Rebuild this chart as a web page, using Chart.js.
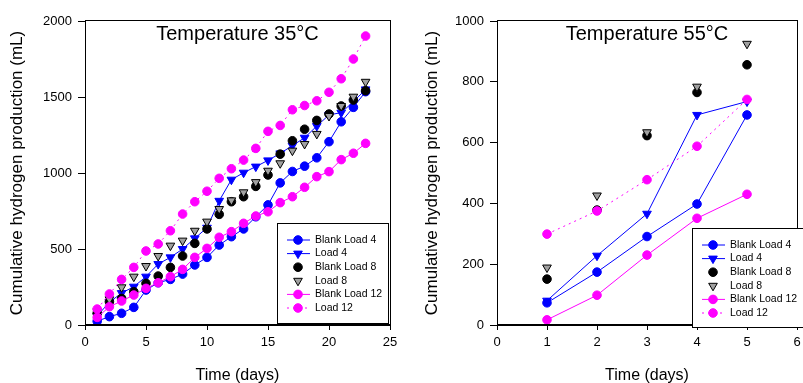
<!DOCTYPE html>
<html lang="en">
<head>
<meta charset="UTF-8" />
<title>Cumulative hydrogen production</title>
<style>
  * { margin: 0; padding: 0; }
  body { width: 803px; height: 383px; background: #fff; overflow: hidden; position: relative; }
  .box { position: absolute; top: 0; height: 383px; }
  #left { left: 0; width: 400px; }
  #right { left: 410px; width: 393px; }
</style>
</head>
<body>
<div class="box" id="left"><canvas id="chart35" width="400" height="383"></canvas></div>
<div class="box" id="right"><canvas id="chart55" width="393" height="383"></canvas></div>
<script src="https://cdn.jsdelivr.net/npm/chart.js@4.4.1/dist/chart.umd.min.js"></script>
<script>
const seriesNames = ["Blank Load 4", "Load 4", "Blank Load 8", "Load 8", "Blank Load 12", "Load 12"];

// 35 °C, days 1-23
const days35 = [1, 2, 3, 4, 5, 6, 7, 8, 9, 10, 11, 12, 13, 14, 15, 16, 17, 18, 19, 20, 21, 22, 23];
const blankLoad4_35 = [25, 55, 77, 116, 230, 278, 300, 335, 395, 445, 526, 581, 632, 712, 790, 935, 1010, 1045, 1100, 1206, 1337, 1432, 1535];
const load4_35 = [60, 150, 210, 252, 318, 401, 445, 500, 570, 640, 817, 956, 1002, 1042, 1083, 1129, 1180, 1232, 1309, 1382, 1397, 1469, 1550];
const blankLoad8_35 = [77, 153, 175, 219, 274, 322, 379, 454, 537, 632, 728, 811, 844, 912, 987, 1124, 1212, 1288, 1346, 1388, 1441, 1480, 1541];
const load8_35 = [90, 169, 248, 318, 388, 454, 522, 555, 620, 680, 763, 820, 873, 940, 1015, 1064, 1147, 1191, 1257, 1375, 1441, 1502, 1600];
const blankLoad12_35 = [50, 120, 158, 197, 241, 278, 318, 366, 445, 504, 577, 614, 669, 717, 745, 805, 844, 906, 976, 1009, 1088, 1130, 1195];
const load12_35 = [105, 204, 300, 379, 487, 533, 620, 730, 811, 880, 965, 1028, 1085, 1162, 1274, 1313, 1416, 1444, 1475, 1531, 1620, 1750, 1901];

// 55 °C, days 1-5
const days55 = [1, 2, 3, 4, 5];
const blankLoad4_55 = [73, 174, 291, 398, 691];
const load4_55 = [80, 228, 366, 691, 735];
const blankLoad8_55 = [151, 378, 623, 765, 856];
const load8_55 = [189, 426, 634, 784, 925];
const blankLoad12_55 = [17, 98, 230, 351, 430];
const load12_55 = [299, 375, 478, 588, 742];

const FONT = "Arial, 'Liberation Sans', Helvetica, sans-serif";
Chart.defaults.font.family = FONT;
Chart.defaults.color = "#000";

// look of each series, same order as seriesNames
const looks = [
  { color: "#0000ff", border: "#0000ff", shape: "circle", rot: 0, r: 4.3, line: true, dash: [] },
  { color: "#0000ff", border: "#0000ff", shape: "triangle", rot: 180, r: 5, line: true, dash: [] },
  { color: "#000000", border: "#000000", shape: "circle", rot: 0, r: 4.3, line: false, dash: [] },
  { color: "#a0a0a0", border: "#000000", shape: "triangle", rot: 180, r: 5, line: false, dash: [] },
  { color: "#ff00ff", border: "#ff00ff", shape: "circle", rot: 0, r: 4.3, line: true, dash: [] },
  { color: "#ff00ff", border: "#ff00ff", shape: "circle", rot: 0, r: 4.3, line: true, dash: [2, 4] },
];

function makeSets(days, lists) {
  return lists.map((vals, i) => {
    const lk = looks[i];
    return {
      label: seriesNames[i],
      data: days.map((d, j) => ({ x: d, y: vals[j] })),
      showLine: lk.line,
      borderColor: lk.color,
      borderWidth: 1,
      borderDash: lk.dash,
      pointStyle: lk.shape,
      pointRotation: lk.rot,
      pointRadius: lk.r,
      pointHoverRadius: lk.r,
      pointBackgroundColor: lk.color,
      pointBorderColor: lk.border,
      pointBorderWidth: 1,
      order: lists.length - i,
    };
  });
}

function marker(ctx, lk, x, y) {
  ctx.save();
  ctx.fillStyle = lk.color;
  ctx.strokeStyle = lk.border;
  ctx.lineWidth = 1;
  ctx.beginPath();
  if (lk.shape === "circle") {
    ctx.arc(x, y, lk.r, 0, Math.PI * 2);
  } else {
    const r = lk.r;
    ctx.moveTo(x, y + r);
    ctx.lineTo(x - r * 0.866, y - r / 2);
    ctx.lineTo(x + r * 0.866, y - r / 2);
    ctx.closePath();
  }
  ctx.fill();
  ctx.stroke();
  ctx.restore();
}

function decor(title, lg) {
  return {
    id: "decor",
    afterDraw(chart) {
      const ctx = chart.ctx;
      const a = chart.chartArea;
      ctx.save();
      // frame
      ctx.strokeStyle = "#000";
      ctx.lineWidth = 1;
      ctx.strokeRect(Math.round(a.left) + 0.5, Math.round(a.top) - 0.5, Math.round(a.right - a.left), Math.round(a.bottom - a.top));
      // title inside the plot
      ctx.fillStyle = "#000";
      ctx.font = "20px " + FONT;
      ctx.textAlign = "center";
      ctx.textBaseline = "middle";
      ctx.fillText(title, (a.left + a.right) / 2, 34);
      // legend box
      ctx.fillStyle = "#fff";
      ctx.fillRect(lg.x, lg.y, lg.w, lg.h);
      ctx.strokeRect(lg.x + 0.5, lg.y + 0.5, lg.w, lg.h);
      ctx.font = "10.5px " + FONT;
      ctx.textAlign = "left";
      seriesNames.forEach((name, i) => {
        const lk = looks[i];
        const y = lg.y + 17 + i * 13.6;
        if (lk.line) {
          ctx.beginPath();
          ctx.setLineDash(lk.dash);
          ctx.strokeStyle = lk.color;
          ctx.moveTo(lg.x + 10, y);
          ctx.lineTo(lg.x + 33, y);
          ctx.stroke();
          ctx.setLineDash([]);
        }
        marker(ctx, lk, lg.x + 21, y);
        ctx.fillStyle = "#000";
        ctx.fillText(name, lg.x + 38, y);
      });
      ctx.restore();
    },
  };
}

function axes(xMax, xStep, yMax, yStep, yTitlePad, yWidth) {
  return {
    x: {
      type: "linear", min: 0, max: xMax,
      ticks: { stepSize: xStep, font: { size: 13 }, padding: 5, maxRotation: 0, callback: (v) => String(v) },
      grid: { drawOnChartArea: false, tickLength: 5, color: "#000" },
      border: { color: "#000" },
      title: { display: true, text: "Time (days)", font: { size: 16, lineHeight: 0.9 }, padding: 0 },
      afterFit(s) { s.height = 58; s.paddingLeft = 0; s.paddingRight = 0; },
    },
    y: {
      type: "linear", min: 0, max: yMax,
      ticks: { stepSize: yStep, font: { size: 13 }, padding: 6, callback: (v) => String(v) },
      grid: { drawOnChartArea: false, tickLength: 7, color: "#000" },
      border: { color: "#000" },
      title: { display: true, text: "Cumulative hydrogen production (mL)", font: { size: 17 }, padding: yTitlePad },
      afterFit(s) { s.width = yWidth; s.paddingTop = 0; s.paddingBottom = 0; },
    },
  };
}

const common = {
  responsive: false,
  animation: false,
  plugins: { legend: { display: false }, tooltip: { enabled: false } },
};

new Chart(document.getElementById("chart35"), {
  type: "scatter",
  data: { datasets: makeSets(days35, [blankLoad4_35, load4_35, blankLoad8_35, load8_35, blankLoad12_35, load12_35]) },
  options: Object.assign({}, common, {
    layout: { padding: { top: 21, right: 10, left: 0, bottom: 0 } },
    scales: axes(25, 5, 2000, 500, 7, 85),
  }),
  plugins: [decor("Temperature 35°C", { x: 277, y: 223, w: 111, h: 100 })],
});

new Chart(document.getElementById("chart55"), {
  type: "scatter",
  data: { datasets: makeSets(days55, [blankLoad4_55, load4_55, blankLoad8_55, load8_55, blankLoad12_55, load12_55]) },
  options: Object.assign({}, common, {
    layout: { padding: { top: 21, right: 0, left: 0, bottom: 0 } },
    scales: axes(6, 1, 1000, 200, 12, 87),
  }),
  plugins: [decor("Temperature 55°C", { x: 282, y: 228, w: 130, h: 99 })],
});
</script>
</body>
</html>
